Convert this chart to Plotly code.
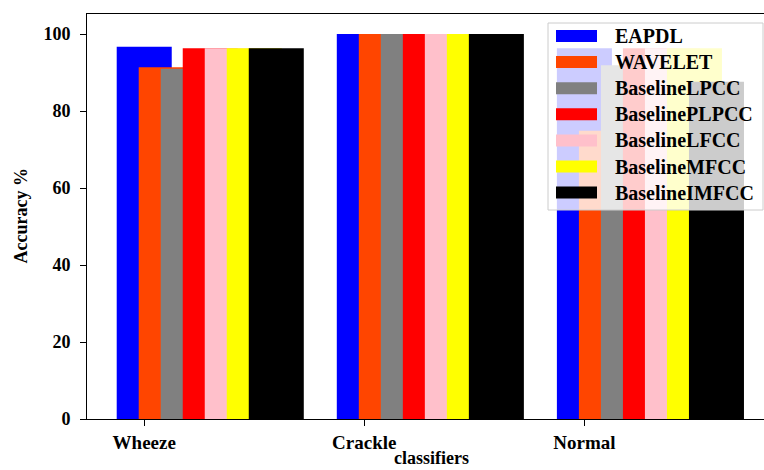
import plotly.graph_objects as go

# Data
categories = ["Wheeze", "Crackle", "Normal"]
methods = ["EAPDL", "WAVELET", "BaselineLPCC", "BaselinePLPCC",
           "BaselineLFCC", "BaselineMFCC", "BaselineIMFCC"]
eapdl = [96.7, 100.0, 96.3]
wavelet = [91.4, 100.0, 74.9]
lpcc = [91.0, 100.0, 91.9]
plpcc = [96.3, 100.0, 96.3]
lfcc = [96.3, 100.0, 96.3]
mfcc = [96.3, 100.0, 96.3]
imfcc = [96.3, 100.0, 87.6]
series = [eapdl, wavelet, lpcc, plpcc, lfcc, mfcc, imfcc]
y_ticks = [0, 20, 40, 60, 80, 100]

colors = ["#0000ff", "#ff4500", "#808080", "#ff0000",
          "#ffc0cb", "#ffff00", "#000000"]

W, H = 764, 470
L, R, T, B = 87, 0, 14, 51
FONT = "Liberation Serif"

bar_step = 0.1
bar_width = 0.25

fig = go.Figure()
for k, (name, vals, col) in enumerate(zip(methods, series, colors)):
    fig.add_trace(go.Bar(
        x=[i + k * bar_step for i in range(len(categories))],
        y=vals,
        width=bar_width,
        name=name,
        marker=dict(color=col, line=dict(width=0)),
        opacity=1,
        showlegend=False,
    ))

axis_font = dict(family=FONT, size=18, color="black", weight="bold")
xtick_font = dict(family=FONT, size=19, color="black", weight="bold")

fig.update_layout(
    width=W, height=H,
    margin=dict(l=L, r=R, t=T, b=B, pad=0),
    plot_bgcolor="white", paper_bgcolor="white",
    barmode="overlay",
    xaxis=dict(
        range=[-0.26, 2.816],
        tickvals=list(range(len(categories))),
        ticktext=categories,
        tickfont=xtick_font,
        ticks="outside", ticklen=6, tickwidth=1, tickcolor="black",
        showline=True, linecolor="black", linewidth=1, mirror=True,
        showgrid=False, zeroline=False,
    ),
    yaxis=dict(
        range=[0, 105.2],
        tickvals=y_ticks,
        tickfont=axis_font,
        ticks="outside", ticklen=6, tickwidth=1, tickcolor="black",
        ticklabelstandoff=6,
        showline=True, linecolor="black", linewidth=1, mirror=False,
        showgrid=False, zeroline=False,
    ),
)

pw, ph = W - L - R, H - T - B


def px(x):
    return (x - L) / pw


def py(y):
    return (H - B - y) / ph


# Axis titles
fig.add_annotation(text="Accuracy %", xref="paper", yref="paper",
                   x=px(20), y=py(216.5), textangle=-90, showarrow=False,
                   font=axis_font, xanchor="center", yanchor="middle")
fig.add_annotation(text="classifiers", xref="paper", yref="paper",
                   x=px(431), y=py(469), showarrow=False, borderpad=0,
                   font=axis_font, xanchor="center", yanchor="bottom")

# Legend box (semi-transparent, drawn above the bars)
fig.add_shape(type="rect", xref="paper", yref="paper",
              x0=px(548), x1=px(763), y0=py(210), y1=py(23),
              fillcolor="rgba(255,255,255,0.8)",
              line=dict(color="#cccccc", width=1), layer="above")

row0, row_gap = 36, 26.1
for k, (name, col) in enumerate(zip(methods, colors)):
    yc = row0 + k * row_gap
    fig.add_shape(type="rect", xref="paper", yref="paper",
                  x0=px(556), x1=px(597), y0=py(yc + 6), y1=py(yc - 6),
                  fillcolor=col, line=dict(width=0), layer="above")
    fig.add_annotation(text=name, xref="paper", yref="paper",
                       x=px(613), y=py(yc), showarrow=False,
                       xanchor="left", yanchor="middle",
                       font=dict(family=FONT, size=20, color="black",
                                 weight="bold"))

fig.write_html("out.html")
